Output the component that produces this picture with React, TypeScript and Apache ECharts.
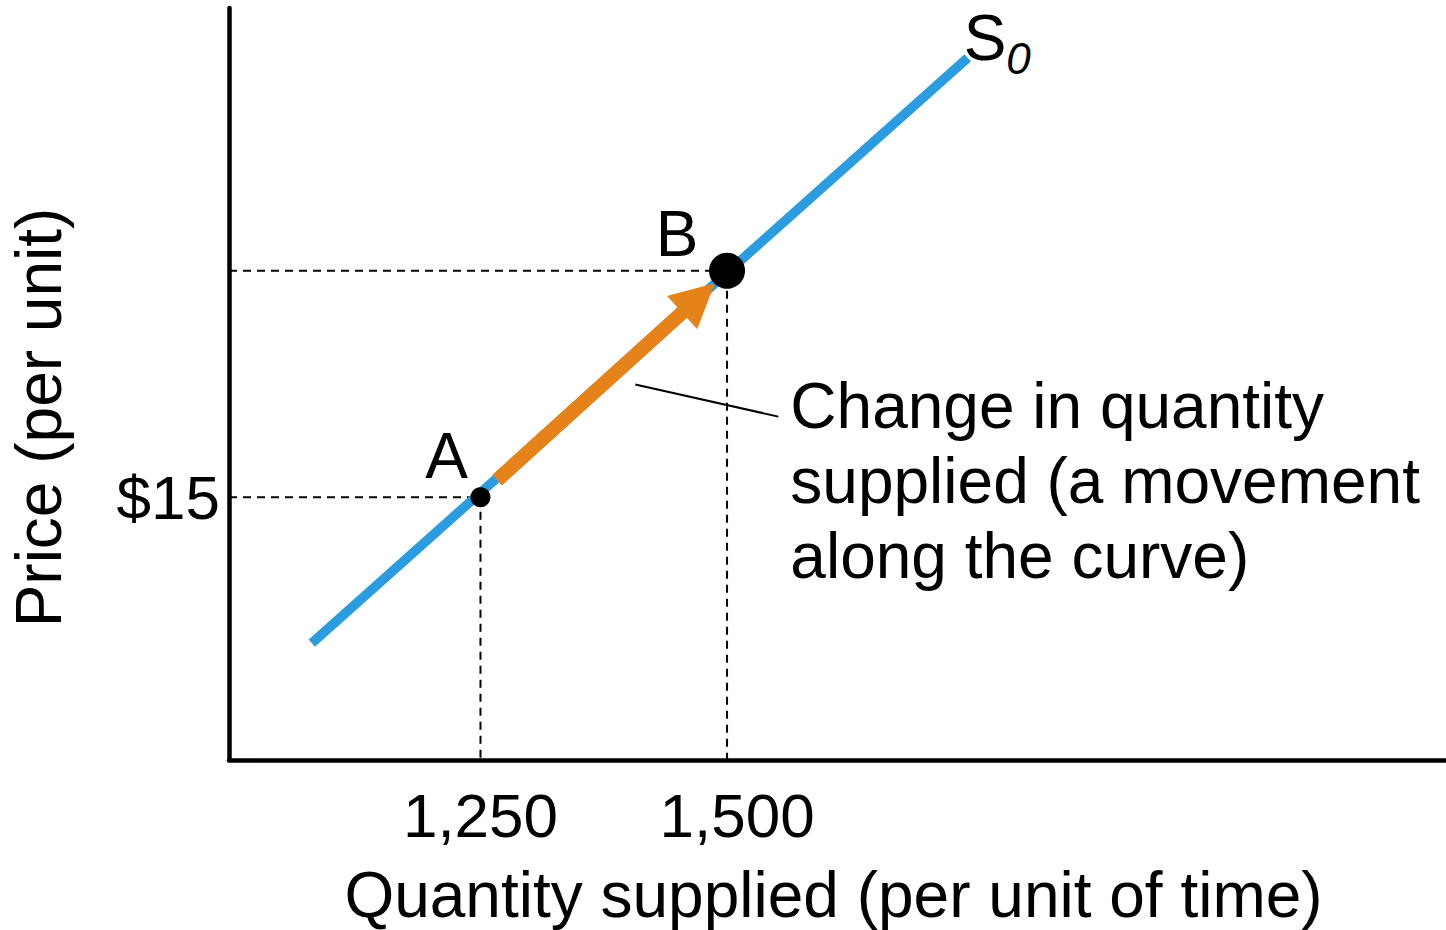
import React, { useEffect, useRef } from "react";
import * as echarts from "echarts";

// ---- data ----
const xMin = 995;
const xMax = 2229;
const yMin = 9.2;
const yMax = 25.8;

const xTickValues = [1250, 1500];
const xTickLabels = ["1,250", "1,500"];
const yTickValues = [15];
const yTickLabels = ["$15"];

const supplyLine = [
  [1079, 11.78],
  [1744, 24.7],
];
const pointA = [1250, 15];
const pointB = [1500, 20];
const arrowStart = [1267, 15.38];
const arrowHead = [1471, 19.4];
const calloutLine = [
  [1407, 17.49],
  [1552, 16.78],
];
const calloutText = ["Change in quantity", "supplied (a movement", "along the curve)"];

// ---- styles ----
const BLUE = "#2B9CE0";
const ORANGE = "#E5831A";
const FONT = "'Liberation Sans', Arial, sans-serif";
const FS = 64;
const TICK_FS = 62;
const xTickPadLeft = [0, 20];

export default function App() {
  const ref = useRef<HTMLDivElement>(null);

  useEffect(() => {
    if (!ref.current) return;
    const chart = echarts.init(ref.current, null, { renderer: "svg" });

    const guide = (pt: number[]) => [
      [xMin, pt[1]],
      [pt[0], pt[1]],
      [pt[0], yMin],
    ];

    const xRich: any = {};
    xTickLabels.forEach((_, i) => {
      xRich["t" + i] = {
        fontSize: TICK_FS,
        fontFamily: FONT,
        color: "#000",
        padding: [0, 0, 0, xTickPadLeft[i]],
      };
    });

    const option: any = {
      animation: false,
      backgroundColor: "#ffffff",
      textStyle: { fontFamily: FONT },
      grid: {
        left: 229,
        right: 0,
        top: 8,
        bottom: 170,
        containLabel: false,
        outerBoundsMode: "none",
      },
      xAxis: {
        type: "value",
        min: xMin,
        max: xMax,
        splitLine: { show: false },
        axisTick: { show: false },
        axisLine: { show: true, lineStyle: { color: "#000", width: 4.5 } },
        axisLabel: {
          customValues: xTickValues,
          formatter: (v: number) => {
            const i = xTickValues.indexOf(v);
            return i < 0 ? "" : `{t${i}|${xTickLabels[i]}}`;
          },
          rich: xRich,
          color: "#000",
          fontSize: TICK_FS,
          fontFamily: FONT,
          margin: 24,
        },
        name: "Quantity supplied (per unit of time)",
        nameLocation: "middle",
        nameGap: 103,
        nameTextStyle: { color: "#000", fontSize: FS, fontFamily: FONT, padding: [0, 8, 0, 0] },
      },
      yAxis: {
        type: "value",
        min: yMin,
        max: yMax,
        splitLine: { show: false },
        axisTick: { show: false },
        axisLine: { show: true, lineStyle: { color: "#000", width: 4.5 } },
        axisLabel: {
          customValues: yTickValues,
          formatter: (v: number) => yTickLabels[yTickValues.indexOf(v)] ?? "",
          color: "#000",
          fontSize: TICK_FS,
          fontFamily: FONT,
          margin: 9,
        },
        name: "Price (per unit)",
        nameLocation: "middle",
        nameGap: 158,
        nameTextStyle: { color: "#000", fontSize: FS, fontFamily: FONT, padding: [0, 67, 0, 0] },
      },
      series: [
        {
          type: "line",
          name: "guideA",
          data: guide(pointA),
          showSymbol: false,
          symbol: "none",
          silent: true,
          z: 1,
          lineStyle: { color: "#000", width: 2, type: [8, 6] },
        },
        {
          type: "line",
          name: "guideB",
          data: guide(pointB),
          showSymbol: false,
          symbol: "none",
          silent: true,
          z: 1,
          lineStyle: { color: "#000", width: 2, type: [8, 6] },
        },
        {
          type: "line",
          name: "S0",
          data: supplyLine,
          showSymbol: false,
          symbol: "none",
          silent: true,
          z: 2,
          lineStyle: { color: BLUE, width: 9.5, cap: "butt" },
          endLabel: {
            show: true,
            formatter: "{s|S}{sub|0}{gap| }",
            distance: 0,
            align: "left",
            verticalAlign: "top",
            offset: [-4, -52],
            rich: {
              s: {
                fontSize: FS,
                lineHeight: 64,
                color: "#000",
                fontFamily: FONT,
                verticalAlign: "top",
              },
              sub: {
                fontSize: 44,
                lineHeight: 44,
                color: "#000",
                fontFamily: FONT,
                fontStyle: "italic",
                verticalAlign: "bottom",
              },
              gap: {
                fontSize: 10,
                lineHeight: 75,
                color: "#000",
                fontFamily: FONT,
              },
            },
          },
        },
        {
          type: "line",
          name: "arrow",
          data: [arrowStart, arrowHead],
          showSymbol: false,
          symbol: "none",
          silent: true,
          z: 3,
          lineStyle: { color: ORANGE, width: 14, cap: "butt" },
          markLine: {
            silent: true,
            symbol: ["none", "triangle"],
            symbolSize: [45, 44],
            label: { show: false },
            emphasis: { disabled: true },
            lineStyle: { color: ORANGE, width: 14, type: "solid", cap: "butt" },
            data: [[{ coord: arrowStart }, { coord: arrowHead }]],
          },
        },
        {
          type: "line",
          name: "callout",
          data: calloutLine,
          showSymbol: false,
          symbol: "none",
          silent: true,
          z: 4,
          lineStyle: { color: "#000", width: 2 },
          endLabel: {
            show: true,
            formatter: calloutText.join("\n"),
            distance: 12,
            offset: [0, 64],
            align: "left",
            verticalAlign: "middle",
            color: "#000",
            fontSize: FS,
            lineHeight: 75,
            fontFamily: FONT,
          },
        },
        {
          type: "scatter",
          name: "points",
          silent: true,
          z: 5,
          data: [
            {
              value: pointA,
              symbolSize: 20,
              label: { show: true, formatter: "A", position: "inside", offset: [-34, -41] },
            },
            {
              value: pointB,
              symbolSize: 36,
              label: { show: true, formatter: "B", position: "inside", offset: [-50, -37] },
            },
          ],
          itemStyle: { color: "#000", opacity: 1 },
          label: { color: "#000", fontSize: FS, fontFamily: FONT },
        },
      ],
    };

    chart.setOption(option);
    return () => chart.dispose();
  }, []);

  return (
    <div
      ref={ref}
      style={{ position: "absolute", left: 0, top: 0, width: 1446, height: 930, background: "#fff" }}
    />
  );
}
